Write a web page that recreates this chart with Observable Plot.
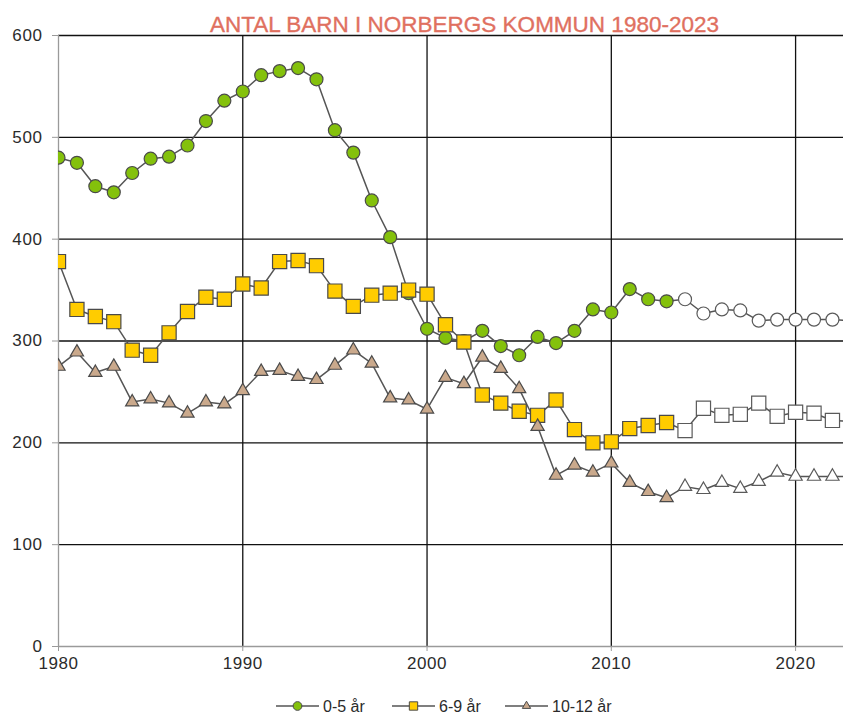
<!DOCTYPE html>
<html><head><meta charset="utf-8">
<script src="https://cdn.jsdelivr.net/npm/d3@7"></script>
<script src="https://cdn.jsdelivr.net/npm/@observablehq/plot@0.6"></script>
<style>
body{margin:0;background:#fff;}
#wrap{position:relative;width:843px;height:715px;overflow:hidden;font-family:"Liberation Sans",Arial,sans-serif;}
#title{position:absolute;left:0;top:0;}
#legend{position:absolute;left:0;top:690px;}
#chart svg text{font-size:17px !important;letter-spacing:0.6px;fill:#2b2b2b;}
</style>
</head><body><div id="wrap"><div id="chart"></div><svg id="title" width="843" height="40"></svg><svg id="legend" width="843" height="25"></svg></div>
<script>
const titleText = "ANTAL BARN I NORBERGS KOMMUN 1980-2023";
const years = d3.range(1980, 2024);
const lastRecorded = 2013;
const seriesNames = ["0-5 år", "6-9 år", "10-12 år"];
const age0_5 = [480,475,452,446,465,479,481,492,516,536,
                545,561,565,568,557,507,485,438,402,347,
                312,303,300,310,295,286,304,298,310,331,
                328,351,341,339,341,327,331,330,320,321,
                321,321,321,320];
const age6_9 = [378,331,324,319,291,286,308,329,343,341,
                356,352,378,379,374,349,334,345,347,350,
                346,316,299,247,239,231,227,242,213,200,
                201,214,217,220,212,234,227,228,239,226,
                230,229,222,221];
const age10_12 = [275,289,269,275,240,243,239,229,240,238,
                  251,270,271,265,262,276,291,278,244,242,
                  233,264,258,284,273,253,216,168,178,171,
                  180,161,152,146,157,154,161,155,162,171,
                  167,167,167,167];
const yTicks = [0,100,200,300,400,500,600];
const xTicks = [1980,1990,2000,2010,2020];

const seriesValues = [age0_5, age6_9, age10_12];
const seriesFill = ["#84c10c", "#ffcc00", "#caa98c"];
const seriesSymbol = ["circle", "square", "triangle"];
const seriesR = [6.5, 8, 4.9];

const rows = seriesNames.flatMap((name, s) =>
  years.map((yr, i) => ({series: name, s, year: yr, value: seriesValues[s][i]})));

const dotMarks = seriesNames.map((name, s) =>
  Plot.dot(rows.filter(d => d.s === s), {
    x: "year", y: "value", symbol: () => seriesSymbol[s], r: seriesR[s],
    fill: d => d.year > lastRecorded ? "#ffffff" : seriesFill[s],
    stroke: d => d.year > lastRecorded ? "#5a5a5a" : "#4a4a4a",
    strokeWidth: 1.2, clip: true
  }));

const chart = Plot.plot({
  width: 843, height: 715,
  marginTop: 35, marginLeft: 58, marginRight: 0, marginBottom: 69,
  style: {fontFamily: "'Liberation Sans', Arial, sans-serif", fontSize: "17px", color: "#2b2b2b", background: "#fff"},
  x: {domain: [1980, 2022.6], label: null},
  y: {domain: [0, 600], label: null},
  color: {type: "identity"},
  symbol: {type: "identity"},
  marks: [
    Plot.ruleY(yTicks.filter(v => v > 0), {stroke: "#111", strokeWidth: 1.3}),
    Plot.ruleX(xTicks.filter(v => v > 1980), {stroke: "#111", strokeWidth: 1.3}),
    Plot.ruleX([1980], {stroke: "#9a9a9a", strokeWidth: 1.3}),
    Plot.ruleY([0], {stroke: "#9a9a9a", strokeWidth: 1.3}),
    Plot.axisY({ticks: yTicks, tickSize: 6, tickPadding: 10, stroke: "#9a9a9a"}),
    Plot.axisX({ticks: xTicks, tickSize: 5, tickPadding: 5, tickFormat: d => String(d), stroke: "#9a9a9a"}),
    Plot.line(rows, {x: "year", y: "value", z: "series", stroke: "#555", strokeWidth: 1.5, clip: true}),
    ...dotMarks
  ]
});
document.getElementById("chart").appendChild(chart);

// title
d3.select("#title").append("text")
  .attr("x", 464.5).attr("y", 32).attr("text-anchor", "middle")
  .attr("font-family", "'Liberation Sans',Arial,sans-serif")
  .attr("font-size", 22).attr("fill", "#e0705f")
  .attr("stroke", "#e0705f").attr("stroke-width", 0.35)
  .attr("textLength", 509).attr("lengthAdjust", "spacingAndGlyphs")
  .text(titleText);

// legend
const lg = d3.select("#legend");
const legendStarts = [276, 392, 505];
seriesNames.forEach((name, s) => {
  const g = lg.append("g").attr("transform", `translate(${legendStarts[s]},16)`);
  g.append("line").attr("x1", 0).attr("x2", 43).attr("y1", 0).attr("y2", 0).attr("stroke", "#555").attr("stroke-width", 1.5);
  const sym = s === 0 ? d3.symbolCircle : s === 1 ? d3.symbolSquare : d3.symbolTriangle;
  const size = s === 0 ? 60 : s === 1 ? 70 : 30;
  g.append("path").attr("d", d3.symbol(sym, size)()).attr("transform", "translate(21.5,0)")
    .attr("fill", seriesFill[s]).attr("stroke", "#4a4a4a").attr("stroke-width", 1);
  g.append("text").attr("x", 47).attr("y", 5.5).attr("font-size", 16).attr("fill", "#2b2b2b")
    .attr("font-family", "'Liberation Sans',Arial,sans-serif").text(name);
});
</script>
</body></html>
